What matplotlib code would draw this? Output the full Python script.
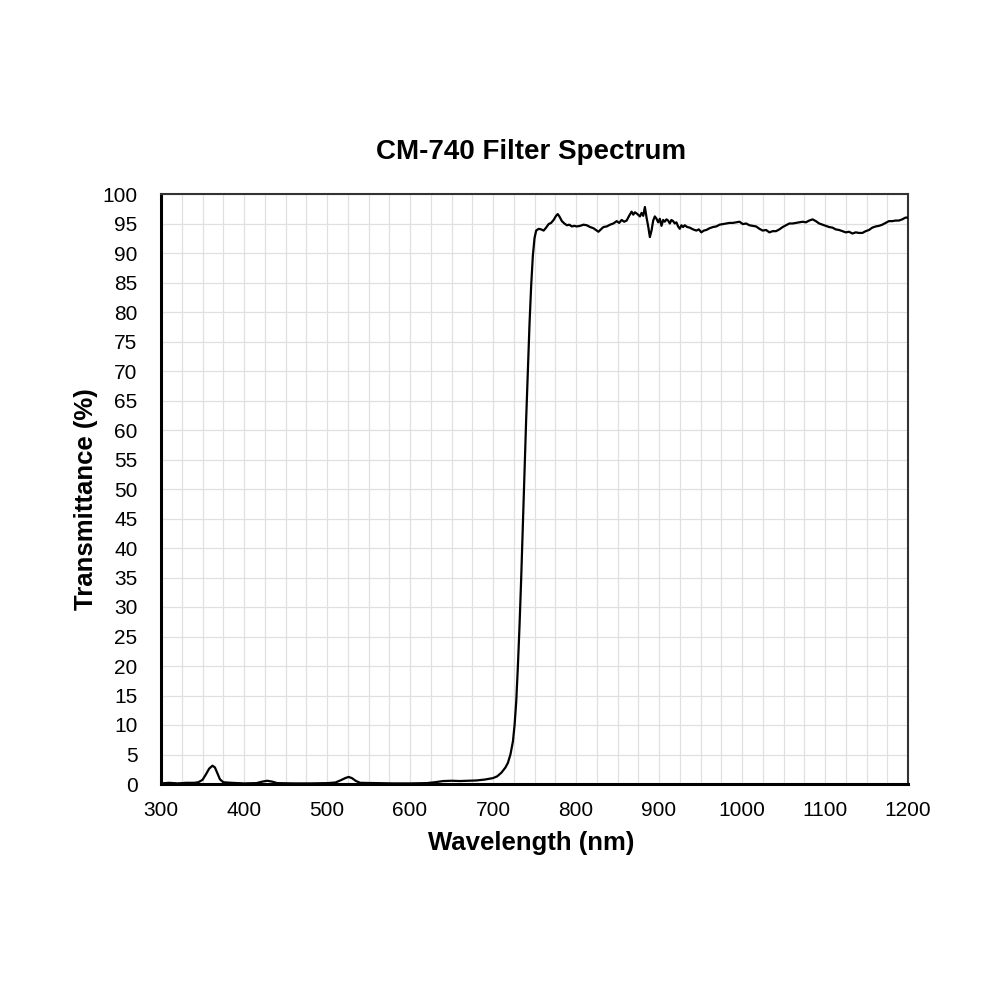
import matplotlib
matplotlib.use('Agg')
import matplotlib.pyplot as plt
from matplotlib.ticker import MultipleLocator

plt.rcParams['font.family'] = ['Liberation Sans', 'DejaVu Sans']

# Spectrum (wavelength nm, transmittance %)
wavelength = [300, 310, 320, 330, 340, 345, 350, 354, 358, 362, 365, 368, 371, 375, 385,
              400, 415, 422, 428, 434, 440, 460, 480, 500, 510, 516, 522, 526, 530, 535,
              540, 560, 580, 600, 620, 630, 640, 650, 660, 670, 680, 690, 700, 705, 710,
              715, 718, 721, 724, 726, 728, 730, 732, 734, 736, 738, 740, 742, 744, 746,
              748, 750, 752, 755, 758, 761, 764, 767, 770, 773, 776, 778, 780, 783, 786,
              789, 792, 795, 798, 801, 805, 809, 813, 817, 821, 824, 827, 830, 833, 837,
              841, 845, 849, 852, 855, 858, 861, 864, 867, 869, 871, 874, 877, 879, 881,
              883, 885, 887, 889, 891, 893, 895, 897, 899, 901, 903, 905, 907, 909, 911,
              913, 915, 917, 919, 921, 923, 925, 927, 929, 931, 934, 937, 941, 945, 948,
              951, 954, 957, 961, 965, 969, 973, 977, 981, 985, 989, 993, 997, 1001, 1005,
              1009, 1013, 1017, 1021, 1025, 1029, 1033, 1037, 1041, 1045, 1049, 1053, 1057, 1061, 1065,
              1069, 1073, 1077, 1081, 1085, 1089, 1093, 1097, 1101, 1105, 1109, 1113, 1117, 1121, 1125,
              1129, 1133, 1137, 1141, 1145, 1149, 1153, 1157, 1161, 1165, 1169, 1173, 1177, 1181, 1185,
              1189, 1193, 1197, 1200]
transmittance = [0.1, 0.2, 0.1, 0.2, 0.2, 0.3, 0.7, 1.6, 2.6, 3.1, 2.8, 1.8, 0.8, 0.3, 0.2,
                 0.1, 0.15, 0.4, 0.55, 0.4, 0.15, 0.1, 0.1, 0.15, 0.25, 0.6, 1.0, 1.2, 1.0, 0.5,
                 0.2, 0.15, 0.1, 0.1, 0.15, 0.3, 0.5, 0.55, 0.5, 0.55, 0.6, 0.75, 1.0, 1.3, 1.9,
                 2.8, 3.6, 5.0, 7.2, 10, 14, 20, 27, 35, 44, 53, 62, 70, 78, 84.5,
                 89.5, 92.5, 93.8, 94.1, 94.0, 93.8, 94.3, 94.9, 95.1, 95.6, 96.3, 96.6, 96.2, 95.4, 95.0,
                 94.7, 94.8, 94.5, 94.6, 94.5, 94.6, 94.8, 94.7, 94.4, 94.2, 93.9, 93.6, 94.0, 94.4, 94.5,
                 94.8, 95.0, 95.4, 95.1, 95.6, 95.3, 95.5, 96.3, 97.0, 96.5, 96.9, 96.6, 96.2, 96.8, 96.3,
                 97.8, 96.0, 94.5, 92.7, 93.8, 95.5, 96.2, 95.8, 95.2, 95.8, 94.6, 95.6, 95.3, 95.7, 95.5,
                 95.0, 95.6, 95.4, 95.0, 95.2, 94.5, 94.1, 94.7, 94.4, 94.7, 94.4, 94.3, 94.0, 93.8, 94.0,
                 93.5, 93.8, 93.9, 94.2, 94.4, 94.5, 94.8, 94.9, 95.0, 95.1, 95.1, 95.2, 95.3, 94.9, 95.0,
                 94.7, 94.6, 94.5, 94.1, 93.8, 93.9, 93.5, 93.7, 93.7, 94.0, 94.4, 94.7, 95.0, 95.0, 95.1,
                 95.2, 95.3, 95.2, 95.5, 95.7, 95.4, 95.0, 94.8, 94.6, 94.4, 94.3, 94.0, 93.9, 93.7, 93.5,
                 93.6, 93.3, 93.5, 93.4, 93.4, 93.7, 93.9, 94.3, 94.5, 94.6, 94.8, 95.1, 95.4, 95.4, 95.5,
                 95.5, 95.7, 96.0, 96.0]

fig = plt.figure(figsize=(10, 10), dpi=100)
ax = fig.add_axes([0.161, 0.216, 0.747, 0.590])

ax.plot(wavelength, transmittance, color='black', lw=1.6, zorder=3)

ax.set_xlim(300, 1200)
ax.set_ylim(0, 100)
ax.xaxis.set_major_locator(MultipleLocator(100))
ax.xaxis.set_minor_locator(MultipleLocator(25))
ax.yaxis.set_major_locator(MultipleLocator(5))
ax.grid(True, which='both', axis='x', color='#e0e0e0', lw=0.9)
ax.grid(True, which='major', axis='y', color='#e0e0e0', lw=0.9)
ax.set_axisbelow(True)
ax.tick_params(which='both', length=0, labelsize=15)
ax.tick_params(axis='x', pad=12)
ax.tick_params(axis='y', pad=17)

for side in ['left', 'bottom']:
    ax.spines[side].set_linewidth(2.2)
    ax.spines[side].set_color('black')
for side in ['top', 'right']:
    ax.spines[side].set_linewidth(1.5)
    ax.spines[side].set_color('#333333')

fig.text(0.531, 0.157, 'Wavelength (nm)', ha='center', va='center',
         fontsize=18.5, fontweight='bold')
fig.text(0.086, 0.501, 'Transmittance (%)', ha='center', va='center',
         rotation=90, fontsize=18.5, fontweight='bold')
fig.text(0.531, 0.848, 'CM-740 Filter Spectrum', ha='center', va='center',
         fontsize=20, fontweight='bold')

fig.savefig('out.png', dpi=100)
